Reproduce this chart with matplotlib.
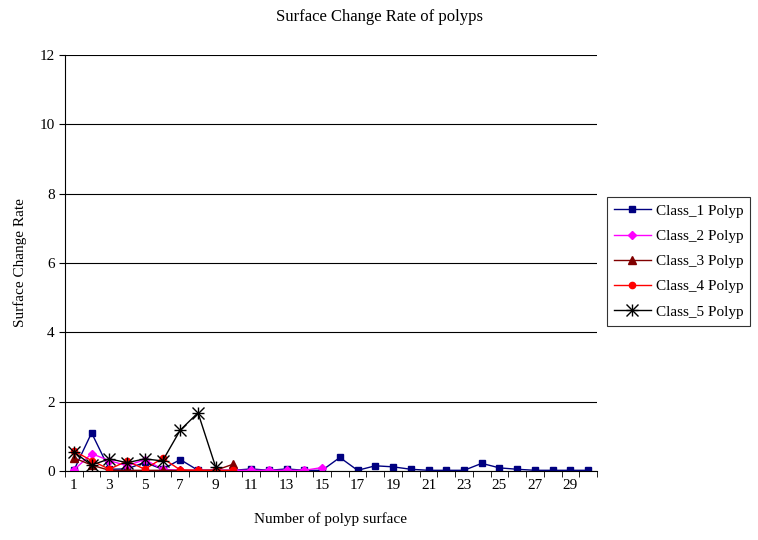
import numpy as np
import matplotlib
matplotlib.use("Agg")
from matplotlib import pyplot as plt
from matplotlib.lines import Line2D

# data
surface = list(range(1, 31))
class_1 = [0.02, 1.1, 0.05, 0.06, 0.25, 0.05, 0.33, 0.02, 0.02, 0.02,
           0.06, 0.02, 0.06, 0.02, 0.02, 0.39, 0.02, 0.15, 0.12, 0.05,
           0.02, 0.02, 0.02, 0.22, 0.09, 0.05, 0.02, 0.02, 0.02, 0.02]
class_2 = [0.03, 0.5, 0.3, 0.15, 0.33, 0.05, 0.02, 0.02, 0.02, 0.02,
           0.02, 0.02, 0.02, 0.02, 0.1]
class_3 = [0.38, 0.17, 0.02, 0.02, 0.02, 0.02, 0.02, 0.02, 0.02, 0.2]
class_4 = [0.58, 0.3, 0.05, 0.29, 0.05, 0.37, 0.03, 0.02, 0.02, 0.02]
class_5 = [0.55, 0.17, 0.35, 0.24, 0.35, 0.29, 1.18, 1.68, 0.11]

series_names = ["Class_1 Polyp", "Class_2 Polyp", "Class_3 Polyp", "Class_4 Polyp", "Class_5 Polyp"]
xtick_labels = [str(v) for v in range(1, 30, 2)]

plt.rcParams['font.family'] = ['Liberation Serif', 'DejaVu Serif']

fig = plt.figure(figsize=(7.58, 5.40), dpi=100)
ax = fig.add_axes([65/758, 1-471/540, (597-65)/758, (471-55)/540])

styles = [
    dict(color='#000080', marker='s', markersize=5),
    dict(color='#FF00FF', marker='D', markersize=4.5),
    dict(color='#800000', marker='^', markersize=6),
    dict(color='#FF0000', marker='o', markersize=4.5),
    dict(color='#000000', marker='x', markersize=8, markeredgewidth=1),
]
for vals, name, st in zip([class_1, class_2, class_3, class_4, class_5], series_names, styles):
    ax.plot(surface[:len(vals)], vals, lw=1, label=name, **st)

# the asterisk marker of class 5
ax.plot(surface[:len(class_5)], class_5, ls='none', marker='+', color='black', markersize=9, markeredgewidth=1)

ax.set_xlim(0.5, 30.5)
ax.set_ylim(0, 12)
ax.set_yticks(range(0, 13, 2))
ax.set_xticks(range(1, 30, 2))
ax.set_xticklabels(xtick_labels)
ax.set_xticks(np.arange(0.5, 31, 1), minor=True)
ax.tick_params(axis='x', which='major', length=0, pad=6, labelsize=11)
ax.tick_params(axis='x', which='minor', length=4, direction='out')
ax.tick_params(axis='y', length=4, direction='out', labelsize=11)
ax.yaxis.grid(True, color='black', lw=0.8)
ax.set_axisbelow(True)
for s in ['top', 'right']:
    ax.spines[s].set_visible(False)

ax.set_xlabel("Number of polyp surface", fontsize=11, labelpad=14)
ax.set_ylabel("Surface Change Rate", fontsize=11, labelpad=9)
fig.text(0.5, 1-17/540, "Surface Change Rate of polyps", ha='center', va='center', fontsize=12)

h, l = ax.get_legend_handles_labels()
h[4] = (h[4], Line2D([], [], ls='none', marker='+', color='black', markersize=9, markeredgewidth=1))
leg = fig.legend(h, l, loc='upper left', bbox_to_anchor=(607/758, 1-197/540), fontsize=11,
                 frameon=True, fancybox=False, edgecolor='black', handlelength=2.4,
                 borderpad=0.45, labelspacing=0.76, handletextpad=0.35, borderaxespad=0)
leg.get_frame().set_linewidth(0.8)

fig.savefig("out.png", dpi=100)
